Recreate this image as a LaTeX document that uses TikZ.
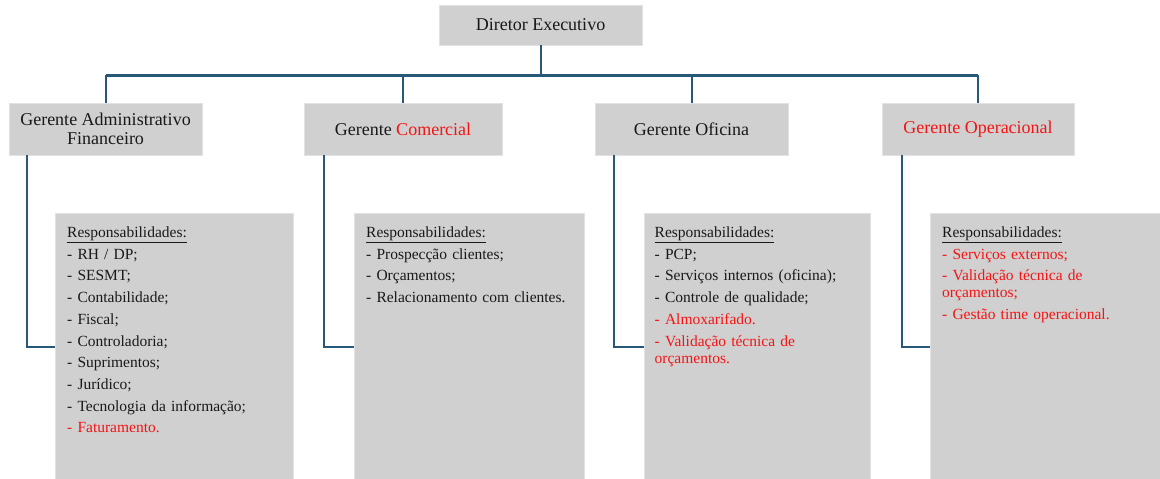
\documentclass[tikz,border=0pt]{standalone}
\usepackage{fontspec}
\setmainfont{Liberation Serif}
\definecolor{conn}{RGB}{40,88,120}
\definecolor{boxfill}{RGB}{208,208,208}
\definecolor{boxline}{RGB}{226,226,226}
\definecolor{txt}{RGB}{25,25,25}
\definecolor{hl}{RGB}{245,20,20}
\tikzset{
  hbox/.style={rectangle, fill=boxfill, draw=boxline, line width=0.8pt, inner sep=0pt,
    text=txt, font=\fontsize{18pt}{18.5pt}\selectfont, align=center},
  rbox/.style={rectangle, fill=boxfill, draw=boxline, line width=0.8pt, inner sep=0pt},
  rtext/.style={anchor=base west, inner sep=0pt, text width=225pt, align=left, text=txt,
    font=\fontsize{15.5pt}{17pt}\selectfont\setlength{\parskip}{4.7pt}},
  stem/.style={draw=conn, line width=2pt},
  bar/.style={draw=conn, line width=3pt},
  elbow/.style={draw=conn, line width=2pt}
}
\begin{document}
\begin{tikzpicture}[x=1pt,y=-1pt]
\useasboundingbox (0,0) rectangle (1160,479);
% header boxes
\node[hbox, minimum width=203pt, minimum height=40pt] (dir) at (540.5,25) {Diretor Executivo};
\node[hbox, minimum width=193pt, minimum height=52pt] (b1) at (105.5,129) {Gerente Administrativo\\Financeiro};
\node[hbox, minimum width=198pt, minimum height=52pt] (b2) at (403,129) {Gerente \textcolor{hl}{Comercial}};
\node[hbox, minimum width=193pt, minimum height=52pt] (b3) at (691.5,129) {Gerente Oficina};
\node[hbox, minimum width=192pt, minimum height=52pt] (b4) at (978,129) {\textcolor{hl}{Gerente Operacional}};
% responsibility boxes
\node[rbox, minimum width=238pt, minimum height=268pt] (ra) at (174,347) {};
\node[rbox, minimum width=230pt, minimum height=268pt] (rb) at (469,347) {};
\node[rbox, minimum width=226pt, minimum height=268pt] (rc) at (757,347) {};
\node[rbox, minimum width=232pt, minimum height=268pt] (rd) at (1046,347) {};
% texts
\node[rtext] (ta) at (67,237.5) {\underline{Responsabilidades:}\par
- RH / DP;\par
- SESMT;\par
- Contabilidade;\par
- Fiscal;\par
- Controladoria;\par
- Suprimentos;\par
- Jurídico;\par
- Tecnologia da informação;\par
\textcolor{hl}{- Faturamento.}};
\node[rtext] (tb) at (366,237.5) {\underline{Responsabilidades:}\par
- Prospecção clientes;\par
- Orçamentos;\par
- Relacionamento com clientes.};
\node[rtext] (tc) at (654.5,237.5) {\underline{Responsabilidades:}\par
- PCP;\par
- Serviços internos (oficina);\par
- Controle de qualidade;\par
\textcolor{hl}{- Almoxarifado.}\par
\textcolor{hl}{- Validação técnica de\newline orçamentos.}};
\node[rtext] (td) at (942,237.5) {\underline{Responsabilidades:}\par
\textcolor{hl}{- Serviços externos;}\par
\textcolor{hl}{- Validação técnica de\newline orçamentos;}\par
\textcolor{hl}{- Gestão time operacional.}};
% tree connectors
\coordinate (jn) at (540.5,75);
\draw[stem] (dir.south) -- (jn);
\draw[bar] (b1.north |- jn) -- (b4.north |- jn);
\draw[stem] (b1.north |- jn) -- (b1.north);
\draw[stem] (b2.north |- jn) -- (b2.north);
\draw[stem] (b3.north |- jn) -- (b3.north);
\draw[stem] (b4.north |- jn) -- (b4.north);
% elbows
\draw[elbow] ([xshift=18pt]b1.south west) |- (ra.west);
\draw[elbow] ([xshift=20pt]b2.south west) |- (rb.west);
\draw[elbow] ([xshift=19pt]b3.south west) |- (rc.west);
\draw[elbow] ([xshift=20pt]b4.south west) |- (rd.west);
\end{tikzpicture}
\end{document}
